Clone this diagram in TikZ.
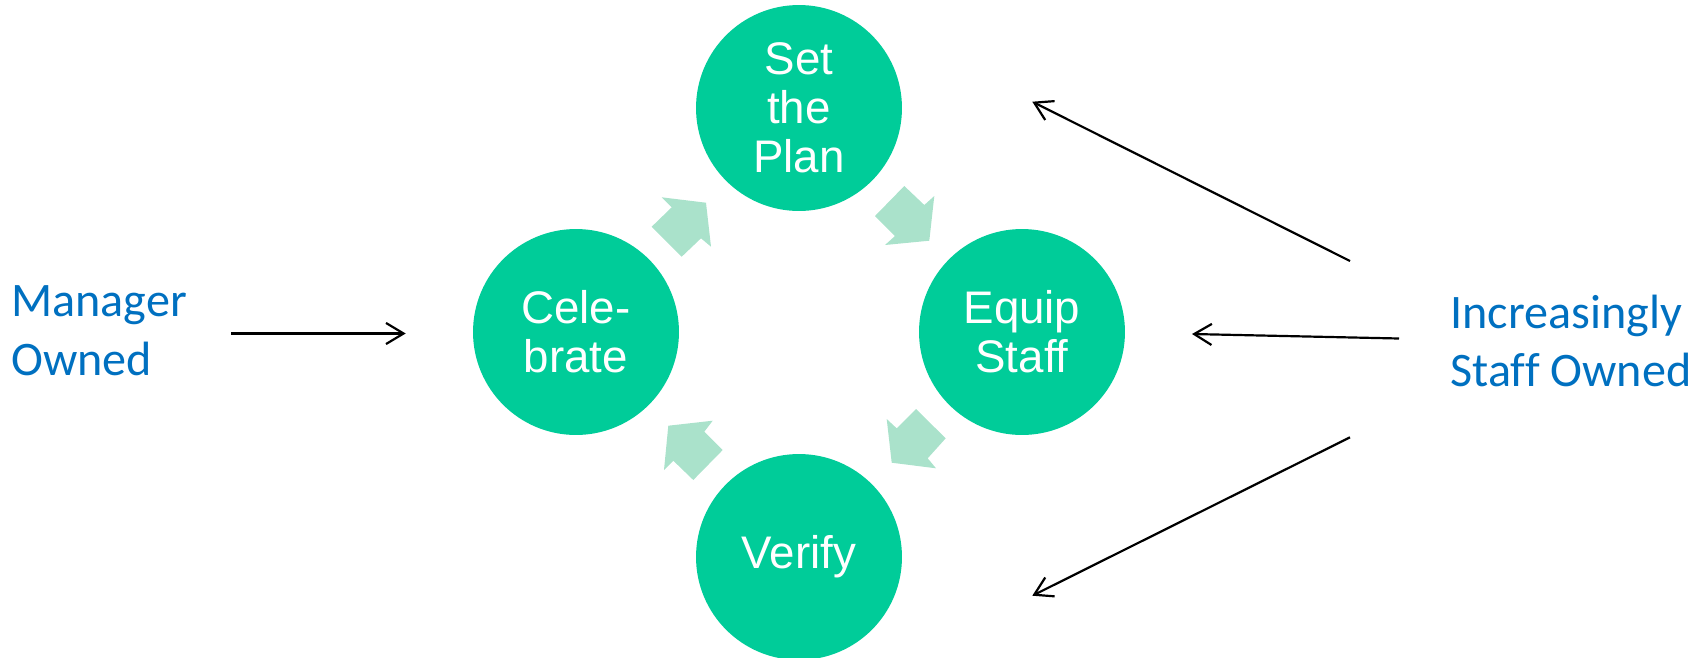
\documentclass[tikz,border=0pt]{standalone}
\usepackage{fontspec}
\setmainfont{Liberation Sans}
\newfontfamily\calibrifont[Ligatures=NoCommon]{Carlito}
\usetikzlibrary{arrows.meta}
\definecolor{stepgreen}{RGB}{0,204,153}
\definecolor{flowgreen}{RGB}{170,226,203}
\definecolor{ownblue}{RGB}{0,112,192}
\begin{document}
\begin{tikzpicture}[x=0.02cm,y=-0.02cm,
  stepnode/.style={circle,fill=stepgreen,minimum size=4.12cm,inner sep=0pt,
    text=white,align=center,font=\fontsize{26}{28}\selectfont},
  ownlabel/.style={text=ownblue,align=left,inner sep=0pt,anchor=west,
    font=\calibrifont\fontsize{27.4}{33.5}\selectfont},
  ownarrow/.style={draw=black,line width=1.25pt,-{Straight Barb[length=10pt,width=12pt]}},
  flow/.style={fill=flowgreen,draw=none}]
\useasboundingbox (0,0) rectangle (1705,657);

% the four steps of the cycle
\node[stepnode] (plan)   at (799,108) {Set\\the\\Plan};
\node[stepnode] (equip)  at (1022,332) {Equip\\Staff};
\node[stepnode] (verify) at (799,557) {Verify};
\node[stepnode] (celeb)  at (576,332) {Cele-\\brate};

% pale block arrows between the steps
\fill[flow] (661.7,197.3) -- (706,202.7) -- (711,246.7) -- (701,238.3) -- (681.7,256.7) -- (651.7,226.7) -- (671.7,207.3) -- cycle;
\fill[flow] (904.3,186) -- (924.3,205) -- (934.3,196) -- (929.3,240.7) -- (885,245) -- (895,236) -- (875,216) -- cycle;
\fill[flow] (916,409) -- (945.7,438.3) -- (927.7,458.3) -- (936,468.3) -- (891.7,462.7) -- (886.7,419) -- (896.7,428.3) -- cycle;
\fill[flow] (712.7,420.7) -- (704.3,431.7) -- (722.7,450) -- (693.3,480) -- (673.3,460.7) -- (664,470) -- (668.3,425.7) -- cycle;

% ownership labels
\node[ownlabel] (mgr) at (11,331) {Manager\\Owned};
\node[ownlabel] (inc) at (1450,341) {Increasingly\\Staff Owned};

% ownership arrows
\coordinate (mgrTail) at (231,333.5);
\coordinate (mgrTip)  at (405.7,333.5);
\coordinate (topTail) at (1350,261);
\coordinate (topTip)  at (1032.3,101.7);
\coordinate (midTail) at (1399,338.5);
\coordinate (midTip)  at (1192,334);
\coordinate (botTail) at (1350,437.3);
\coordinate (botTip)  at (1032.3,595.7);
\draw[ownarrow] (mgrTail) -- (mgrTip);
\draw[ownarrow] (topTail) -- (topTip);
\draw[ownarrow] (midTail) -- (midTip);
\draw[ownarrow] (botTail) -- (botTip);
\end{tikzpicture}
\end{document}
